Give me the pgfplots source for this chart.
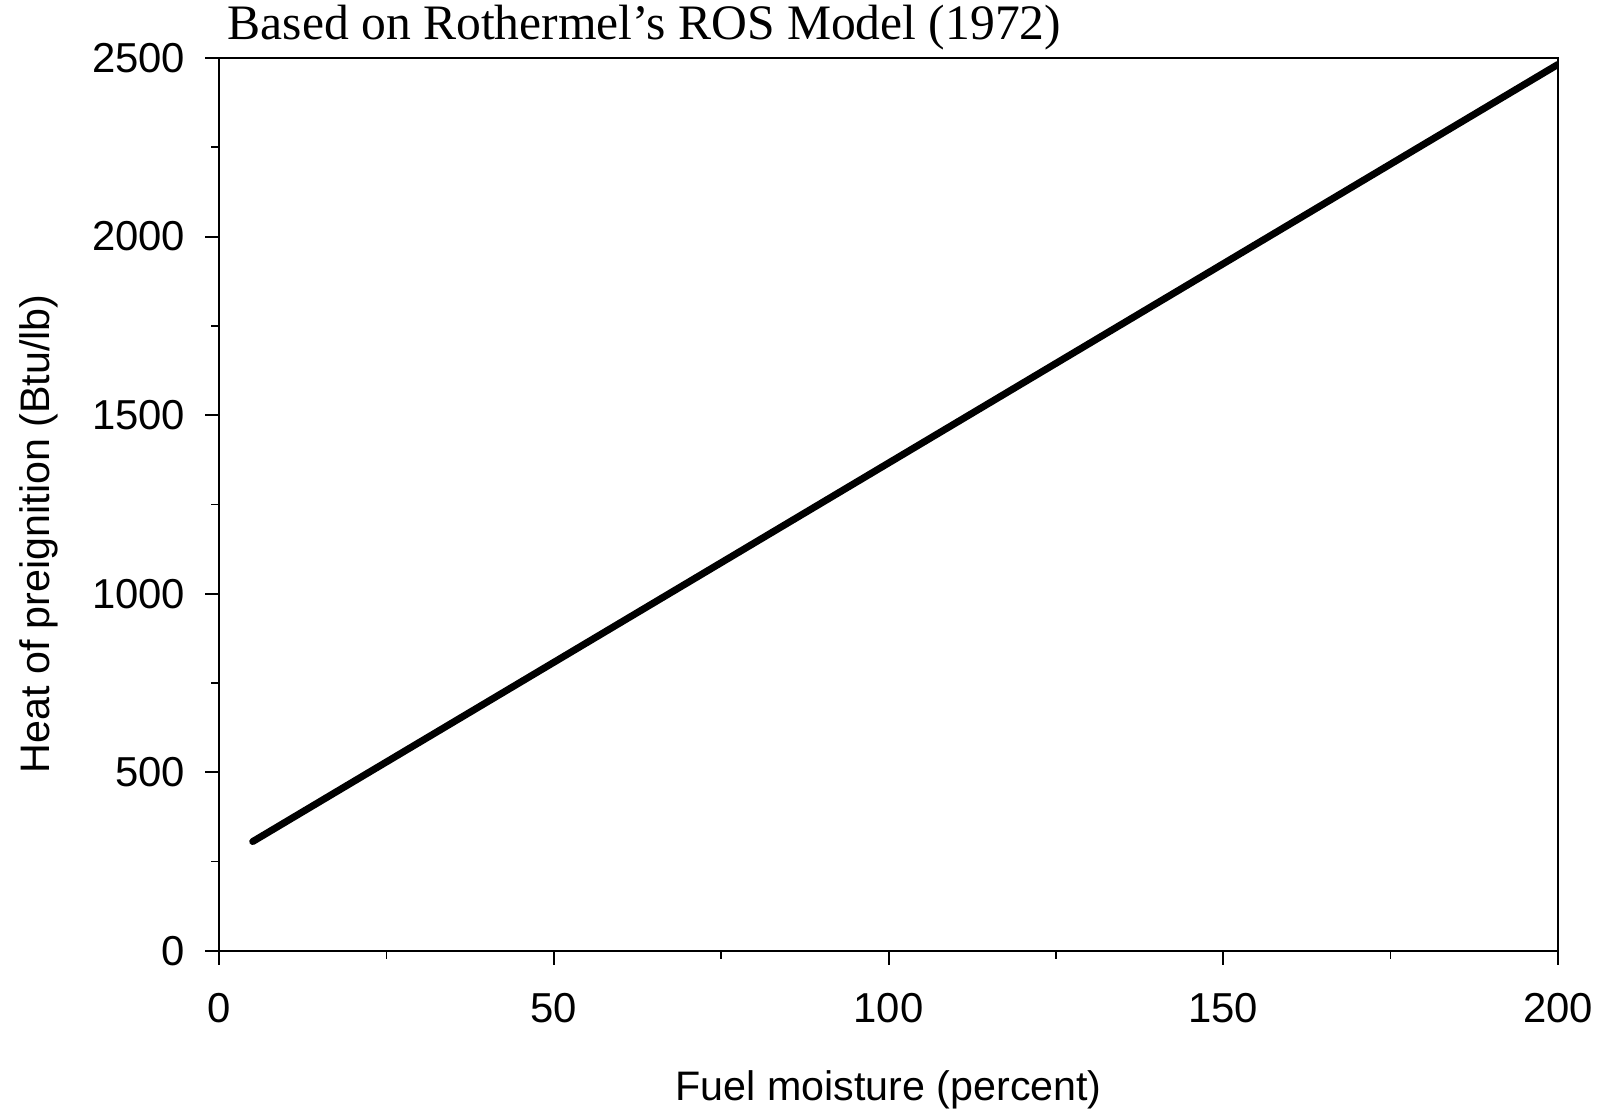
\documentclass[border=0pt]{standalone}
\usepackage{fontspec}
\setmainfont{Liberation Sans}
\newfontfamily\titlefont{Liberation Serif}
\usepackage{pgfplots}
\pgfplotsset{compat=1.18}
\begin{document}
\begin{tikzpicture}
\begin{axis}[
 scale only axis, width=669.5bp, height=446.5bp,
 xmin=0, xmax=200, ymin=0, ymax=2500,
 xtick={0,50,...,200}, minor xtick={25,75,125,175},
 ytick={0,500,...,2500}, minor ytick={250,750,...,2250},
 tick align=outside, major tick length=7bp, minor tick length=4bp,
 xtick pos=bottom, ytick pos=left,
 axis line style={line width=1.1bp},
 every tick/.style={line width=1bp, black},
 every minor tick/.style={line width=0.8bp, black},
 every tick label/.append style={font=\fontsize{21}{25}\selectfont},
 xticklabel style={yshift=-10.5bp},
 yticklabel style={xshift=-6.5bp},
 /pgf/number format/assume math mode=true,
 /pgf/number format/1000 sep={},
 xlabel={Fuel moisture (percent)},
 ylabel={Heat of preignition (Btu/lb)},
 label style={font=\fontsize{20.7}{25}\selectfont},
 xlabel style={at={(axis description cs:0.5,-0.1557)}, anchor=center},
 ylabel style={at={(axis description cs:-0.1344,0.467)}, anchor=center},
]
\addplot[black, line width=3.5bp, line cap=round] coordinates {
 (5,306) (50,808) (100,1366) (150,1924) (200,2482)
};
\end{axis}
\node[anchor=base west, inner sep=0pt, font=\titlefont\fontsize{24.9}{29}\selectfont]
  at ([xshift=4bp,yshift=9bp]current axis.north west) {Based on Rothermel’s ROS Model (1972)};
\pgfresetboundingbox
\path ([xshift=-109.65bp,yshift=-81bp]current axis.south west) rectangle ([xshift=21.5bp,yshift=29bp]current axis.north east);
\end{tikzpicture}
\end{document}
